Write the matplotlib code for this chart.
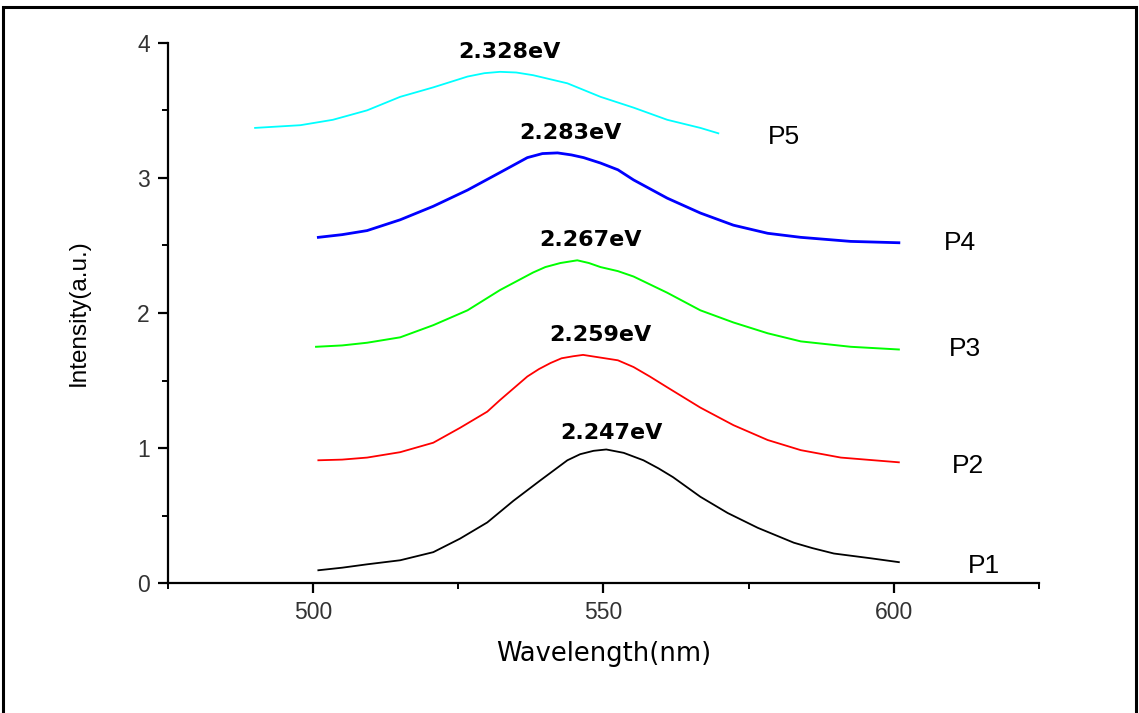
import matplotlib
matplotlib.use("Agg")
import matplotlib.pyplot as plt
from matplotlib.patches import Rectangle
from matplotlib.ticker import MultipleLocator

plt.rcParams['font.family'] = ['Liberation Sans', 'DejaVu Sans']

# wavelength (nm) / intensity (a.u.)
p1_x = [500.9, 505.0, 509.3, 515.0, 520.7, 525.3, 530.0, 534.5, 539.1, 543.8, 546.0,
        548.3, 550.5, 553.5, 556.9, 559.5, 562.0, 566.7, 571.4, 576.6, 582.8, 586.0,
        589.7, 596.0, 600.9]
p1_y = [0.096, 0.115, 0.14, 0.17, 0.23, 0.33, 0.45, 0.61, 0.76, 0.91, 0.955,
        0.98, 0.99, 0.965, 0.91, 0.85, 0.785, 0.64, 0.52, 0.41, 0.30, 0.26,
        0.22, 0.185, 0.156]

p2_x = [500.9, 505.0, 509.3, 515.0, 520.7, 525.3, 530.0, 532.2, 536.9, 538.9, 540.9,
        542.8, 544.8, 546.5, 549.5, 552.5, 555.2, 558.0, 561.0, 566.7, 572.4, 578.3,
        584.0, 590.9, 600.9]
p2_y = [0.91, 0.915, 0.93, 0.97, 1.04, 1.15, 1.27, 1.356, 1.53, 1.585, 1.63,
        1.665, 1.68, 1.69, 1.67, 1.65, 1.60, 1.53, 1.45, 1.30, 1.17, 1.06,
        0.985, 0.93, 0.895]

p3_x = [500.5, 505.0, 509.3, 515.0, 520.7, 526.6, 532.2, 537.9, 540.0, 542.6, 545.5,
        547.5, 549.5, 552.5, 555.2, 561.0, 566.7, 572.4, 578.3, 584.0, 592.6, 600.9]
p3_y = [1.75, 1.76, 1.78, 1.82, 1.91, 2.02, 2.17, 2.30, 2.34, 2.37, 2.39,
        2.37, 2.34, 2.31, 2.27, 2.15, 2.02, 1.93, 1.85, 1.79, 1.75, 1.73]

p4_x = [500.9, 505.0, 509.3, 515.0, 520.7, 526.6, 532.2, 536.9, 539.5, 542.1, 544.5,
        546.6, 549.5, 552.5, 555.2, 561.0, 566.7, 572.4, 578.3, 584.0, 592.6, 600.9]
p4_y = [2.56, 2.58, 2.61, 2.69, 2.79, 2.91, 3.04, 3.15, 3.18, 3.185, 3.17,
        3.15, 3.11, 3.06, 2.985, 2.85, 2.74, 2.65, 2.59, 2.56, 2.53, 2.52]

p5_x = [490.0, 497.8, 503.4, 509.3, 515.0, 520.7, 526.6, 529.5, 532.2, 535.0, 537.9,
        543.8, 549.5, 555.2, 561.0, 566.7, 569.8]
p5_y = [3.37, 3.39, 3.43, 3.50, 3.60, 3.67, 3.75, 3.775, 3.785, 3.78, 3.76,
        3.70, 3.60, 3.52, 3.43, 3.37, 3.33]

series = [
    (p1_x, p1_y, 'black', 1.3),
    (p2_x, p2_y, '#ff0000', 1.3),
    (p3_x, p3_y, '#00ff00', 1.4),
    (p4_x, p4_y, '#0000ff', 2.0),
    (p5_x, p5_y, '#00ffff', 1.3),
]

peak_labels = ['2.247eV', '2.259eV', '2.267eV', '2.283eV', '2.328eV']
peak_pos = [(551.4, 1.11), (549.5, 1.84), (547.8, 2.54), (544.3, 3.33), (533.8, 3.93)]
names = ['P1', 'P2', 'P3', 'P4', 'P5']
name_pos = [(612.8, 0.13), (610.0, 0.87), (609.5, 1.73), (608.6, 2.52), (578.3, 3.30)]

fig = plt.figure(figsize=(11.39, 7.13), dpi=100)
ax = fig.add_axes([0.1475, 0.182, 0.7645, 0.758])

for x, y, c, lw in series:
    ax.plot(x, y, color=c, lw=lw, solid_joinstyle='round')

for t, (x, y) in zip(peak_labels, peak_pos):
    ax.text(x, y, t, ha='center', va='center', fontsize=16,
            fontweight='bold', family='DejaVu Sans')
for t, (x, y) in zip(names, name_pos):
    ax.text(x, y, t, ha='left', va='center', fontsize=19)

ax.set_xlim(475, 625)
ax.set_ylim(0, 4)
ax.xaxis.set_major_locator(MultipleLocator(50))
ax.xaxis.set_minor_locator(MultipleLocator(25))
ax.yaxis.set_major_locator(MultipleLocator(1))
ax.yaxis.set_minor_locator(MultipleLocator(0.5))

for s in ['top', 'right']:
    ax.spines[s].set_visible(False)
for s in ['left', 'bottom']:
    ax.spines[s].set_linewidth(1.6)

ax.tick_params(which='major', direction='out', length=7, width=1.6,
               labelsize=16.5, labelcolor='#333333', pad=6)
ax.tick_params(which='minor', direction='out', length=4, width=1.4)

ax.set_xlabel('Wavelength(nm)', fontsize=18.5, labelpad=12, family='DejaVu Sans')
ax.set_ylabel('Intensity(a.u.)', fontsize=17.5, labelpad=34)

# outer frame around the picture
fig.patches.append(Rectangle((0.003, -0.05), 0.994, 1.0408, transform=fig.transFigure,
                             fill=False, edgecolor='black', lw=2.2, clip_on=False))

fig.savefig('out.png', dpi=100)
